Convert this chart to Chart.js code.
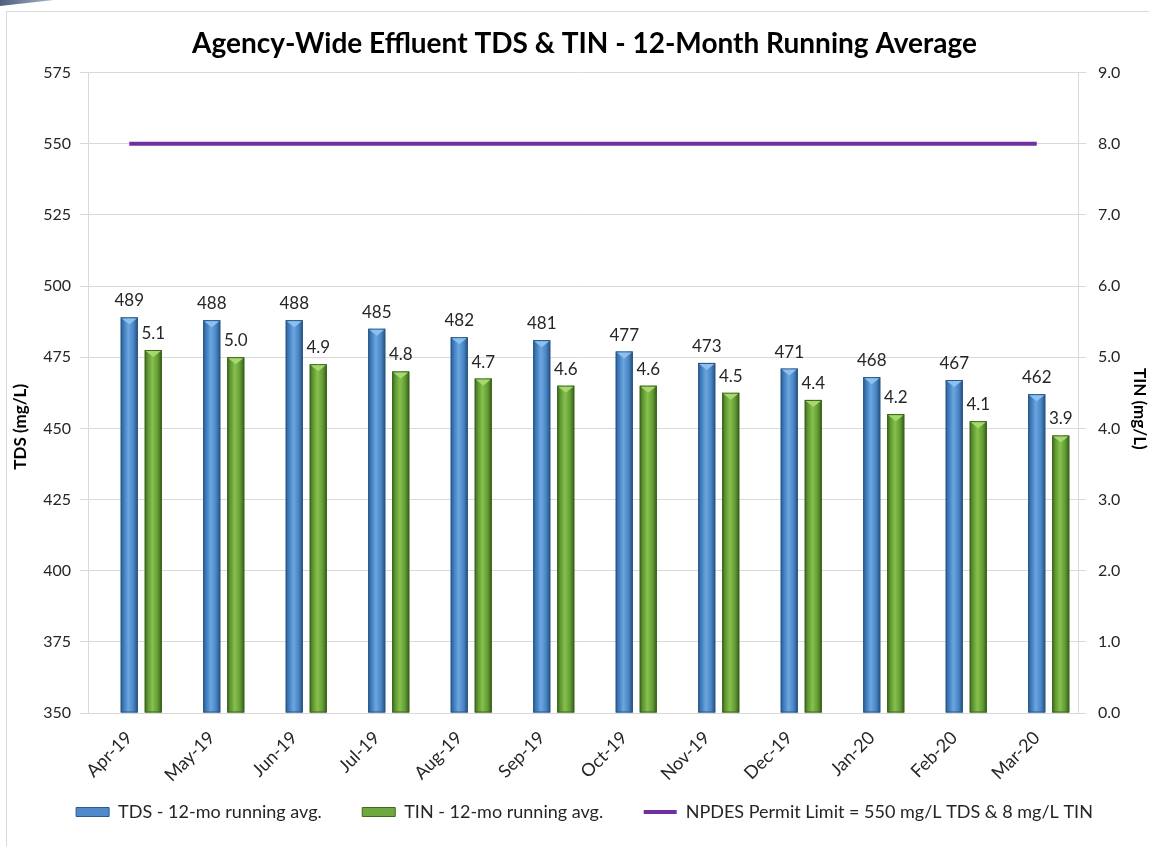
<!DOCTYPE html>
<html>
<head>
<meta charset="utf-8">
<title>Agency-Wide Effluent TDS &amp; TIN</title>
<script src="https://cdn.jsdelivr.net/npm/chart.js@4.4.1/dist/chart.umd.min.js"></script>
<style>
    html, body { margin: 0; padding: 0; background: #fff; }
    #wrap { position: relative; width: 1149px; height: 846px; overflow: hidden; }
    #frame {
        position: absolute; left: 6px; top: 11px; right: -4px; bottom: -4px;
        border-left: 1px solid #D9D9D9; border-top: 1px solid #D9D9D9;
    }
    #swoosh {
        position: absolute; left: 0; top: 0; width: 54px; height: 6px;
        background: linear-gradient(90deg, #4d607f, #a9b7cb);
        clip-path: polygon(0 0, 100% 0, 0 100%);
    }
    canvas { position: absolute; left: 0; top: 0; }
</style>
</head>
<body>
<div id="wrap">
    <div id="frame"></div>
    <div id="swoosh"></div>
    <canvas id="chart-effluent" width="1149" height="846"></canvas>
</div>
<script>
const MONTHS = ['Apr-19', 'May-19', 'Jun-19', 'Jul-19', 'Aug-19', 'Sep-19',
                'Oct-19', 'Nov-19', 'Dec-19', 'Jan-20', 'Feb-20', 'Mar-20'];
// 12-month running averages, mg/L
const TDS_AVG = [489, 488, 488, 485, 482, 481, 477, 473, 471, 468, 467, 462];
const TIN_AVG = [5.1, 5.0, 4.9, 4.8, 4.7, 4.6, 4.6, 4.5, 4.4, 4.2, 4.1, 3.9];
// NPDES permit limit (TDS, left axis)
const PERMIT_TDS = [550, 550, 550, 550, 550, 550, 550, 550, 550, 550, 550, 550];
// empty slot so the TDS bar sits on the month tick and TIN to its right
const SPACER = [null, null, null, null, null, null, null, null, null, null, null, null];

const FONT = 'Lato, Calibri, "Liberation Sans", sans-serif';
const TEXT = '#262626';
const GRID = '#D9D9D9';

// cylinder-style fill + pointed cap on each bar
const barShading = {
    id: 'barShading',
    afterDatasetsDraw(chart) {
        const ctx = chart.ctx;
        const area = chart.chartArea;
        chart.data.datasets.forEach((ds, i) => {
            if (!ds.shade) return;
            chart.getDatasetMeta(i).data.forEach(bar => {
                const { x, y, base, width } = bar.getProps(['x', 'y', 'base', 'width'], true);
                const l = x - width / 2, r = x + width / 2;
                const bottom = Math.min(base, area.bottom);
                const g = ctx.createLinearGradient(l, 0, r, 0);
                ds.shade.forEach(([stop, col]) => g.addColorStop(stop, col));
                ctx.save();
                ctx.fillStyle = g;
                ctx.fillRect(l, y, width, bottom - y);
                ctx.strokeStyle = ds.edgeColor;
                ctx.lineWidth = 1;
                ctx.strokeRect(l + 0.5, y + 0.5, width - 1, bottom - y - 1);
                ctx.beginPath();
                ctx.moveTo(l + 1, y + 1);
                ctx.lineTo(r - 1, y + 1);
                ctx.lineTo(x, y + 7);
                ctx.closePath();
                ctx.fillStyle = ds.capColor;
                ctx.fill();
                ctx.restore();
            });
        });
    }
};

// value labels above the bars
const valueLabels = {
    id: 'valueLabels',
    afterDatasetsDraw(chart) {
        const ctx = chart.ctx;
        ctx.save();
        ctx.font = '17px ' + FONT;
        ctx.fillStyle = TEXT;
        ctx.textAlign = 'center';
        ctx.textBaseline = 'bottom';
        chart.data.datasets.forEach((ds, i) => {
            if (!ds.fmt) return;
            chart.getDatasetMeta(i).data.forEach((bar, j) => {
                ctx.fillText(ds.fmt(ds.data[j]), bar.x, bar.y - 8);
            });
        });
        ctx.restore();
    }
};

// axis titles sit a little below the middle of the plot
const axisTitles = {
    id: 'axisTitles',
    afterDraw(chart) {
        const ctx = chart.ctx;
        const { top, bottom } = chart.chartArea;
        const mid = (top + bottom) / 2;
        ctx.save();
        ctx.font = 'bold 17px ' + FONT;
        ctx.fillStyle = '#000';
        ctx.textAlign = 'center';
        ctx.textBaseline = 'middle';
        ctx.translate(21, mid + 34);
        ctx.rotate(-Math.PI / 2);
        ctx.fillText('TDS (mg/L)', 0, 0);
        ctx.restore();
        ctx.save();
        ctx.font = 'bold 17px ' + FONT;
        ctx.fillStyle = '#000';
        ctx.textAlign = 'center';
        ctx.textBaseline = 'middle';
        ctx.translate(1139, mid + 16);
        ctx.rotate(Math.PI / 2);
        ctx.fillText('TIN (mg/L)', 0, 0);
        ctx.restore();
    }
};

const ctxEff = document.getElementById('chart-effluent').getContext('2d');

new Chart(ctxEff, {
    type: 'bar',
    data: {
        labels: MONTHS,
        datasets: [
            {
                label: '',
                data: SPACER,
                yAxisID: 'y'
            },
            {
                label: 'TDS - 12-mo running avg.',
                data: TDS_AVG,
                yAxisID: 'y',
                base: 350,
                backgroundColor: '#4F8BCB',
                borderColor: '#2B5B8C',
                borderWidth: 1,
                shade: [[0, '#2C5D90'], [0.18, '#3F7CBD'], [0.45, '#6BA6DF'], [0.75, '#4A86C6'], [1, '#24507E']],
                capColor: '#8DC0EE',
                edgeColor: '#2A5886',
                fmt: v => String(v)
            },
            {
                label: 'TIN - 12-mo running avg.',
                data: TIN_AVG,
                yAxisID: 'y1',
                base: 0,
                backgroundColor: '#6EA83F',
                borderColor: '#3F6B1F',
                borderWidth: 1,
                shade: [[0, '#3D6A1E'], [0.18, '#5F9632'], [0.45, '#86C14D'], [0.75, '#649C36'], [1, '#355D19']],
                capColor: '#A6D86E',
                edgeColor: '#3B651C',
                fmt: v => v.toFixed(1)
            },
            {
                type: 'line',
                label: 'NPDES Permit Limit = 550 mg/L TDS & 8 mg/L TIN',
                data: PERMIT_TDS,
                yAxisID: 'y',
                borderColor: '#7030A0',
                backgroundColor: '#7030A0',
                borderWidth: 4,
                pointRadius: 0,
                fill: false
            }
        ]
    },
    options: {
        responsive: false,
        animation: false,
        devicePixelRatio: 1,
        categoryPercentage: 0.873,
        barPercentage: 0.71,
        layout: { padding: { left: 20, right: 0, top: 0, bottom: 15 } },
        plugins: {
            title: {
                display: true,
                text: 'Agency-Wide Effluent TDS & TIN - 12-Month Running Average',
                color: '#000',
                font: { family: FONT, size: 28, weight: 'bold' },
                padding: { top: 27, bottom: 12 }
            },
            legend: {
                position: 'bottom',
                labels: {
                    color: TEXT,
                    font: { family: FONT, size: 18 },
                    usePointStyle: true,
                    pointStyleWidth: 33,
                    boxHeight: 9,
                    padding: 18,
                    generateLabels(chart) {
                        const items = Chart.defaults.plugins.legend.labels.generateLabels(chart);
                        const shown = items.filter(it => chart.data.datasets[it.datasetIndex].label);
                        return shown.map((it, k) => {
                            const ds = chart.data.datasets[it.datasetIndex];
                            it.pointStyle = ds.type === 'line' ? 'line' : 'rect';
                            // wider gap after the first two entries
                            if (k < shown.length - 1) it.text += '\u2003\u2002';
                            return it;
                        });
                    }
                }
            },
            tooltip: { enabled: false }
        },
        scales: {
            x: {
                grid: { display: false },
                border: { display: true, color: GRID },
                ticks: {
                    color: TEXT,
                    font: { family: FONT, size: 18 },
                    padding: 6,
                    maxRotation: 45,
                    minRotation: 45,
                    autoSkip: false
                },
                afterFit(scale) { scale.height = 72; }
            },
            y: {
                position: 'left',
                min: 350,
                max: 575,
                grid: { color: GRID, tickLength: 8 },
                border: { color: GRID },
                ticks: {
                    stepSize: 25,
                    color: TEXT,
                    padding: 9,
                    font: { family: FONT, size: 16 }
                },
                afterFit(scale) { scale.width = 68; }
            },
            y1: {
                position: 'right',
                min: 0,
                max: 9,
                grid: { drawOnChartArea: false, color: GRID, tickLength: 8 },
                border: { color: GRID },
                ticks: {
                    stepSize: 1,
                    color: TEXT,
                    padding: 12,
                    font: { family: FONT, size: 16 },
                    callback: v => v.toFixed(1)
                },
                afterFit(scale) { scale.width = 71; }
            }
        }
    },
    plugins: [barShading, valueLabels, axisTitles]
});
</script>
</body>
</html>
